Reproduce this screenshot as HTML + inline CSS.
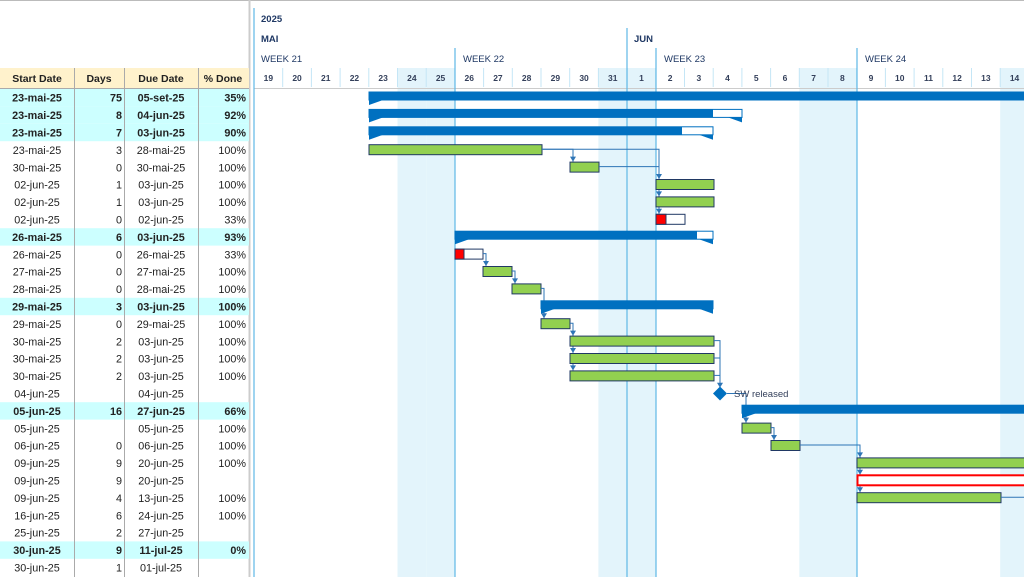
<!DOCTYPE html>
<html><head><meta charset="utf-8"><style>
body{margin:0;background:#fff;width:1024px;height:577px;overflow:hidden;font-family:"Liberation Sans",sans-serif}
svg text{font-family:"Liberation Sans",sans-serif}
</style></head><body>
<svg id="s" width="1024" height="577" xmlns="http://www.w3.org/2000/svg"></svg>
<script>
const s=document.getElementById('s');let h='';
const R=17.4,T=89,DW=28.7,X0=254;
const dx=i=>X0+i*DW;
const ry=i=>T+i*R;
h+=`<line x1="0" y1="0.5" x2="1024" y2="0.5" stroke="#bbb"/>`;
h+=`<line x1="249.5" y1="0" x2="249.5" y2="577" stroke="#ccc" stroke-width="2"/>`;
[5,6,12,13,19,20,26].forEach(i=>{h+=`<rect x="${dx(i)}" y="68" width="${DW}" height="509" fill="#e3f4fb"/>`});
const days=[19,20,21,22,23,24,25,26,27,28,29,30,31,1,2,3,4,5,6,7,8,9,10,11,12,13,14];
days.forEach((d,i)=>{h+=`<text x="${dx(i)+DW/2}" y="81" font-size="8.5" font-weight="bold" fill="#333f5a" text-anchor="middle">${d}</text>`;
 if(i>0)h+=`<line x1="${dx(i)}" y1="68" x2="${dx(i)}" y2="87" stroke="#c5e6f6"/>`});
h+=`<line x1="254" y1="88.5" x2="1024" y2="88.5" stroke="#ccc"/>`;
h+=`<text x="261" y="22" font-size="9.5" font-weight="bold" fill="#1f3864">2025</text>`;
h+=`<text x="261" y="42" font-size="9.5" font-weight="bold" fill="#1f3864">MAI</text>`;
h+=`<text x="634" y="42" font-size="9.5" font-weight="bold" fill="#1f3864">JUN</text>`;
[[261,'WEEK 21'],[463,'WEEK 22'],[664,'WEEK 23'],[865,'WEEK 24']].forEach(w=>h+=`<text x="${w[0]}" y="62" font-size="9.5" fill="#1f3864">${w[1]}</text>`);
[[254,8],[455,48],[627,28],[656,48],[857,48]].forEach(v=>h+=`<line x1="${v[0]}" y1="${v[1]}" x2="${v[0]}" y2="577" stroke="#5fb8e6" stroke-width="1.2"/>`);
const rows=[["23-mai-25","75","05-set-25","35%",1],["23-mai-25","8","04-jun-25","92%",1],["23-mai-25","7","03-jun-25","90%",1],
["23-mai-25","3","28-mai-25","100%"],["30-mai-25","0","30-mai-25","100%"],["02-jun-25","1","03-jun-25","100%"],["02-jun-25","1","03-jun-25","100%"],["02-jun-25","0","02-jun-25","33%"],
["26-mai-25","6","03-jun-25","93%",1],["26-mai-25","0","26-mai-25","33%"],["27-mai-25","0","27-mai-25","100%"],["28-mai-25","0","28-mai-25","100%"],
["29-mai-25","3","03-jun-25","100%",1],["29-mai-25","0","29-mai-25","100%"],["30-mai-25","2","03-jun-25","100%"],["30-mai-25","2","03-jun-25","100%"],["30-mai-25","2","03-jun-25","100%"],
["04-jun-25","","04-jun-25",""],["05-jun-25","16","27-jun-25","66%",1],["05-jun-25","","05-jun-25","100%"],["06-jun-25","0","06-jun-25","100%"],
["09-jun-25","9","20-jun-25","100%"],["09-jun-25","9","20-jun-25",""],["09-jun-25","4","13-jun-25","100%"],["16-jun-25","6","24-jun-25","100%"],["25-jun-25","2","27-jun-25",""],
["30-jun-25","9","11-jul-25","0%",1],["30-jun-25","1","01-jul-25",""]];
h+=`<rect x="0" y="68" width="249" height="20" fill="#fff2cc"/>`;
[["Start Date",37],["Days",99],["Due Date",161],["% Done",223]].forEach(c=>h+=`<text x="${c[1]}" y="82" font-size="10.5" font-weight="bold" fill="#222" text-anchor="middle">${c[0]}</text>`);
rows.forEach((r,i)=>{const y=ry(i);
 if(r[4])h+=`<rect x="0" y="${y}" width="249" height="${R}" fill="#ccffff"/>`;
 const fw=r[4]?'bold':'normal',b=y+12.7,fs=10.8;
 h+=`<text x="37" y="${b}" font-size="${fs}" font-weight="${fw}" fill="#222" text-anchor="middle">${r[0]}</text>`;
 h+=`<text x="122" y="${b}" font-size="${fs}" font-weight="${fw}" fill="#222" text-anchor="end">${r[1]}</text>`;
 h+=`<text x="161" y="${b}" font-size="${fs}" font-weight="${fw}" fill="#222" text-anchor="middle">${r[2]}</text>`;
 h+=`<text x="246" y="${b}" font-size="${fs}" font-weight="${fw}" fill="#222" text-anchor="end">${r[3]}</text>`;});
[74,124,198].forEach(x=>h+=`<line x1="${x+.5}" y1="68" x2="${x+.5}" y2="577" stroke="#aaa"/>`);
h+=`<line x1="0" y1="88.5" x2="249" y2="88.5" stroke="#aaa"/>`;
const B='#0070c0',G='#92d050';
function sum(i,a,b,p){const y=ry(i)+3;h+=`<rect x="${a}" y="${y}" width="${b-a}" height="8" fill="#fff" stroke="${B}" stroke-width="1"/>`;
 h+=`<rect x="${a}" y="${y}" width="${p-a}" height="8" fill="${B}"/>`;
 h+=`<polygon points="${a},${y+8} ${a+14},${y+8} ${a},${y+13}" fill="${B}"/>`;
 if(b<1024)h+=`<polygon points="${b},${y+8} ${b-14},${y+8} ${b},${y+13}" fill="${B}"/>`;}
function bar(i,a,b,c,fill){const y=ry(i)+3.5;h+=`<rect x="${a}" y="${y}" width="${b-a}" height="10" fill="${c||G}" stroke="#203864" stroke-width="1"/>`;if(fill)h+=`<rect x="${a}" y="${y}" width="${fill-a}" height="10" fill="red" stroke="#203864"/>`;}
const ln=(p)=>h+=`<polyline points="${p}" fill="none" stroke="#2e75b6" stroke-width="1"/>`;
const ar=(x,y)=>h+=`<polygon points="${x-3},${y-5} ${x+3},${y-5} ${x},${y}" fill="#2e75b6"/>`;
sum(0,369,1030,1030);sum(1,369,742,713);sum(2,369,713,682);
bar(3,369,542);
ln(`542,${ry(3)+8} 573,${ry(3)+8} 573,${ry(4)+3}`);ar(573,ry(4)+3);
ln(`542,${ry(3)+8} 659,${ry(3)+8} 659,${ry(7)+3}`);
bar(4,570,599);ln(`599,${ry(4)+8} 659,${ry(4)+8}`);
ar(659,ry(5)+3);ar(659,ry(6)+3);ar(659,ry(7)+3);
bar(5,656,714);bar(6,656,714);bar(7,656,685,'#fff',666);
sum(8,455,713,697);
bar(9,455,483,'#fff',464);ln(`483,${ry(9)+8} 486,${ry(9)+8} 486,${ry(10)+3}`);ar(486,ry(10)+3);
bar(10,483,512);ln(`512,${ry(10)+8} 515,${ry(10)+8} 515,${ry(11)+3}`);ar(515,ry(11)+3);
bar(11,512,541);ln(`541,${ry(11)+8} 544,${ry(11)+8} 544,${ry(13)+3}`);
sum(12,541,713,713);
ar(544,ry(13)+3);bar(13,541,570);ln(`570,${ry(13)+8} 573,${ry(13)+8} 573,${ry(16)+3}`);
ar(573,ry(14)+3);ar(573,ry(15)+3);ar(573,ry(16)+3);
bar(14,570,714);bar(15,570,714);bar(16,570,714);
ln(`714,${ry(14)+8} 720,${ry(14)+8} 720,${ry(17)+3}`);ln(`714,${ry(15)+8} 720,${ry(15)+8}`);ln(`714,${ry(16)+8} 720,${ry(16)+8}`);
ar(720,ry(17)+3);
const my=ry(17)+8.7;h+=`<polygon points="720,${my-7} 727,${my} 720,${my+7} 713,${my}" fill="${B}"/>`;
ln(`727,${my} 746,${my} 746,${ry(19)+3}`);
h+=`<text x="734" y="${my+3.5}" font-size="9.5" fill="#333f5a">SW released</text>`;
sum(18,742,1030,1030);
ar(746,ry(19)+3);bar(19,742,771);ln(`771,${ry(19)+8} 774,${ry(19)+8} 774,${ry(20)+3}`);ar(774,ry(20)+3);
bar(20,771,800);ln(`800,${ry(20)+8} 860,${ry(20)+8} 860,${ry(23)+3}`);
ar(860,ry(21)+3);ar(860,ry(22)+3);ar(860,ry(23)+3);
bar(21,857,1030);
h+=`<rect x="857.5" y="${ry(22)+3.5}" width="170" height="10" fill="#fff" stroke="red" stroke-width="2"/>`;
bar(23,857,1001);ln(`1001,${ry(23)+8} 1024,${ry(23)+8}`);
s.innerHTML=h;
</script>
</body></html>
